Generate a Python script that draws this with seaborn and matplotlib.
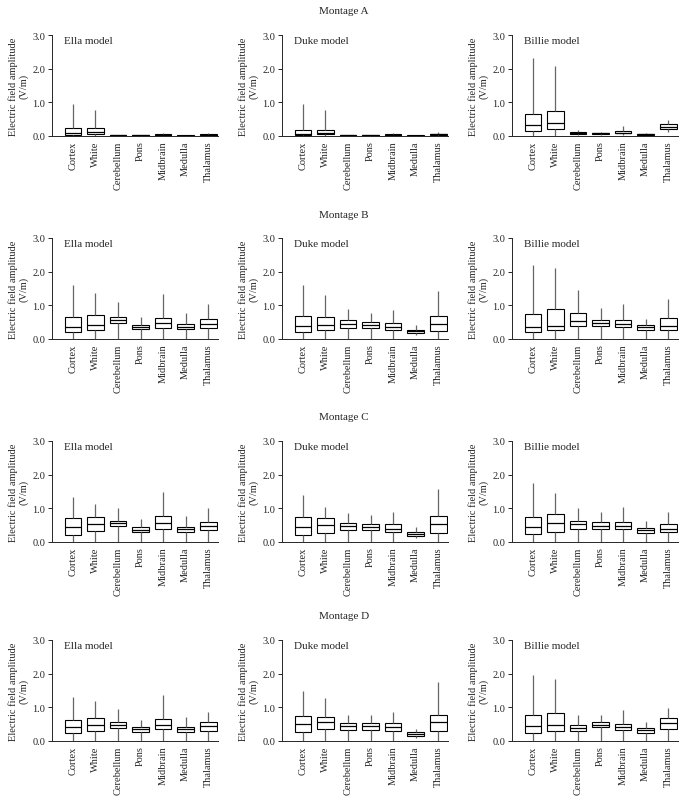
import matplotlib
matplotlib.use("Agg")
import matplotlib.pyplot as plt
import pandas as pd
import seaborn as sns

REGIONS = ["Cortex", "White", "Cerebellum", "Pons", "Midbrain", "Medulla", "Thalamus"]
MONTAGES = ["Montage A", "Montage B", "Montage C", "Montage D"]
MODELS = ["Ella model", "Duke model", "Billie model"]

# five-number summaries per region: min, q1, median, q3, max (V/m)
A_ELLA = [(0, 0.03, 0.10, 0.25, 0.95), (0, 0.05, 0.13, 0.25, 0.77), (0, 0.01, 0.02, 0.03, 0.04),
          (0, 0.01, 0.015, 0.02, 0.03), (0, 0.02, 0.03, 0.05, 0.08), (0, 0.005, 0.01, 0.015, 0.02),
          (0, 0.03, 0.04, 0.06, 0.10)]
A_DUKE = [(0, 0.02, 0.07, 0.18, 0.95), (0, 0.05, 0.10, 0.18, 0.77), (0, 0.01, 0.02, 0.03, 0.04),
          (0, 0.01, 0.015, 0.02, 0.03), (0, 0.02, 0.04, 0.05, 0.10), (0, 0.005, 0.01, 0.015, 0.02),
          (0, 0.03, 0.05, 0.07, 0.12)]
A_BILLIE = [(0, 0.15, 0.32, 0.65, 2.33), (0, 0.20, 0.40, 0.73, 2.08), (0.03, 0.06, 0.09, 0.11, 0.18),
            (0.03, 0.05, 0.08, 0.10, 0.13), (0.04, 0.08, 0.10, 0.14, 0.30), (0.02, 0.03, 0.05, 0.06, 0.08),
            (0.12, 0.20, 0.28, 0.35, 0.47)]
B_ELLA = [(0, 0.20, 0.37, 0.65, 1.60), (0, 0.28, 0.43, 0.70, 1.37), (0, 0.47, 0.56, 0.66, 1.10),
          (0, 0.30, 0.36, 0.42, 0.64), (0, 0.34, 0.48, 0.63, 1.35), (0, 0.30, 0.37, 0.44, 0.76),
          (0, 0.34, 0.45, 0.60, 1.03)]
B_DUKE = [(0, 0.20, 0.40, 0.67, 1.60), (0, 0.27, 0.42, 0.64, 1.30), (0, 0.34, 0.44, 0.57, 0.90),
          (0, 0.34, 0.43, 0.51, 0.76), (0, 0.27, 0.37, 0.49, 0.85), (0.12, 0.18, 0.23, 0.27, 0.42),
          (0, 0.24, 0.44, 0.68, 1.44)]
B_BILLIE = [(0, 0.20, 0.36, 0.75, 2.20), (0, 0.27, 0.40, 0.90, 2.10), (0, 0.40, 0.54, 0.78, 1.47),
            (0, 0.38, 0.47, 0.57, 0.93), (0, 0.36, 0.46, 0.57, 1.05), (0, 0.28, 0.36, 0.43, 0.60),
            (0, 0.28, 0.40, 0.62, 1.18)]
C_ELLA = [(0, 0.20, 0.44, 0.72, 1.33), (0, 0.32, 0.53, 0.73, 1.12), (0, 0.48, 0.55, 0.62, 1.00),
          (0, 0.29, 0.37, 0.44, 0.69), (0, 0.38, 0.55, 0.76, 1.50), (0, 0.30, 0.38, 0.44, 0.78),
          (0, 0.36, 0.48, 0.59, 1.02)]
C_DUKE = [(0, 0.20, 0.45, 0.73, 1.40), (0, 0.28, 0.50, 0.70, 1.05), (0, 0.37, 0.48, 0.57, 0.85),
          (0, 0.35, 0.45, 0.53, 0.80), (0, 0.30, 0.40, 0.53, 0.88), (0.12, 0.18, 0.24, 0.29, 0.44),
          (0, 0.28, 0.52, 0.77, 1.58)]
C_BILLIE = [(0, 0.23, 0.45, 0.73, 1.75), (0, 0.30, 0.55, 0.83, 1.47), (0, 0.40, 0.52, 0.62, 1.00),
            (0, 0.40, 0.49, 0.60, 0.90), (0, 0.38, 0.49, 0.60, 1.05), (0, 0.27, 0.35, 0.43, 0.62),
            (0, 0.30, 0.40, 0.53, 0.90)]
D_ELLA = [(0, 0.23, 0.43, 0.63, 1.30), (0, 0.30, 0.48, 0.68, 1.20), (0, 0.38, 0.47, 0.55, 0.95),
          (0, 0.27, 0.35, 0.42, 0.62), (0, 0.35, 0.48, 0.66, 1.38), (0, 0.26, 0.36, 0.42, 0.72),
          (0, 0.30, 0.45, 0.55, 0.87)]
D_DUKE = [(0, 0.27, 0.50, 0.75, 1.50), (0, 0.37, 0.57, 0.72, 1.27), (0, 0.33, 0.44, 0.52, 0.78),
          (0, 0.33, 0.45, 0.53, 0.78), (0, 0.30, 0.42, 0.54, 0.85), (0.10, 0.15, 0.22, 0.27, 0.37),
          (0, 0.30, 0.57, 0.78, 1.75)]
D_BILLIE = [(0, 0.25, 0.44, 0.77, 1.97), (0, 0.30, 0.48, 0.82, 1.83), (0, 0.30, 0.40, 0.47, 0.78),
            (0, 0.42, 0.48, 0.57, 0.78), (0, 0.33, 0.42, 0.51, 0.92), (0, 0.24, 0.32, 0.39, 0.55),
            (0, 0.37, 0.54, 0.67, 0.97)]

PANELS = [[A_ELLA, A_DUKE, A_BILLIE],
          [B_ELLA, B_DUKE, B_BILLIE],
          [C_ELLA, C_DUKE, C_BILLIE],
          [D_ELLA, D_DUKE, D_BILLIE]]


def to_frame(stats):
    rows = []
    for region, five in zip(REGIONS, stats):
        for v in five:
            rows.append({"region": region, "value": v})
    return pd.DataFrame(rows)


sns.set_style("ticks")
plt.rcParams["font.family"] = ["Liberation Serif", "DejaVu Serif"]

W, H = 688, 804
fig = plt.figure(figsize=(W / 100, H / 100), dpi=100)

col_left = [52, 282, 512]
row_top = [36, 239, 442, 641]
ax_w, ax_h = 166, 101

for r, montage in enumerate(MONTAGES):
    fig.text(0.5, 1 - (row_top[r] - 24) / H, montage, ha="center", va="center", fontsize=8)
    for c, model in enumerate(MODELS):
        ax = fig.add_axes([col_left[c] / W, 1 - (row_top[r] + ax_h) / H, ax_w / W, ax_h / H])
        df = to_frame(PANELS[r][c])
        sns.boxplot(data=df, x="region", y="value", order=REGIONS, ax=ax,
                    whis=(0, 100), width=0.75, color="white", linecolor="black",
                    linewidth=0.8, showcaps=False, fliersize=0,
                    whiskerprops={"color": "#666666", "linewidth": 0.9},
                    medianprops={"color": "black", "linewidth": 0.9})
        ax.set_ylim(0, 3.0)
        ax.set_xlim(-0.93, 6.44)
        ax.set_yticks([0, 1, 2, 3])
        ax.set_yticklabels(["0.0", "1.0", "2.0", "3.0"])
        ax.set_xlabel("")
        ax.set_ylabel("Electric field amplitude\n(V/m)", fontsize=7.5, labelpad=3, linespacing=1.1)
        ax.tick_params(axis="y", labelsize=7.5, length=3, width=0.7, pad=2)
        ax.tick_params(axis="x", labelsize=7.5, length=0, pad=3, rotation=90)
        for s in ["top", "right"]:
            ax.spines[s].set_visible(False)
        for s in ["left", "bottom"]:
            ax.spines[s].set_linewidth(0.7)
        ax.text(0.07, 0.95, model, transform=ax.transAxes, ha="left", va="center", fontsize=8)

fig.savefig("out.png", dpi=100)
